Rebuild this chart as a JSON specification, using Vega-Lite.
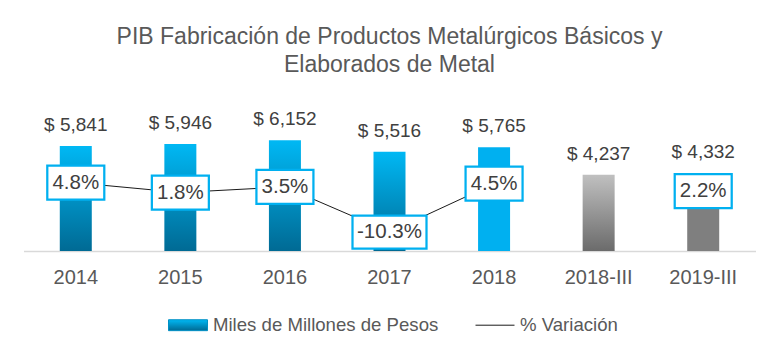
{
  "$schema": "https://vega.github.io/schema/vega-lite/v6.json",
  "width": 732,
  "height": 151,
  "autosize": {"type": "none"},
  "padding": {"left": 23.5, "top": 100, "right": 23.5, "bottom": 105},
  "background": "white",
  "title": {
    "text": ["PIB Fabricación de Productos Metalúrgicos Básicos y", "Elaborados de Metal"],
    "font": "Liberation Sans",
    "fontSize": 23,
    "fontWeight": "normal",
    "color": "#595959",
    "lineHeight": 28,
    "anchor": "middle",
    "frame": "group",
    "offset": 23
  },
  "data": {
    "values": [
      {"periodo": "2014", "valor": 5841, "pct": 4.8},
      {"periodo": "2015", "valor": 5946, "pct": 1.8},
      {"periodo": "2016", "valor": 6152, "pct": 3.5},
      {"periodo": "2017", "valor": 5516, "pct": -10.3},
      {"periodo": "2018", "valor": 5765, "pct": 4.5},
      {"periodo": "2018-III", "valor": 4237, "pct": null},
      {"periodo": "2019-III", "valor": 4332, "pct": 2.2}
    ]
  },
  "encoding": {
    "x": {
      "field": "periodo",
      "type": "nominal",
      "sort": null,
      "title": null,
      "scale": {"paddingInner": 0.694, "paddingOuter": 0.347},
      "axis": {
        "labelAngle": 0,
        "ticks": false,
        "labelPadding": 16,
        "labelFont": "Liberation Sans",
        "labelFontSize": 20,
        "labelColor": "#595959",
        "domainColor": "#D9D9D9",
        "domainWidth": 1.5,
        "grid": false
      }
    }
  },
  "layer": [
    {
      "mark": {"type": "bar"},
      "encoding": {
        "y": {"field": "valor", "type": "quantitative", "scale": {"domain": [0, 8390], "nice": false}, "axis": null},
        "color": {
          "condition": [
            {"test": "datum.periodo === '2018'", "value": "#00B0F0"},
            {"test": "datum.periodo === '2018-III'", "value": {"gradient": "linear", "x1": 0, "y1": 0, "x2": 0, "y2": 1, "stops": [{"offset": 0, "color": "#C0C0C0"}, {"offset": 1, "color": "#6B6B6B"}]}},
            {"test": "datum.periodo === '2019-III'", "value": "#7F7F7F"}
          ],
          "value": {"gradient": "linear", "x1": 0, "y1": 0, "x2": 0, "y2": 1, "stops": [{"offset": 0, "color": "#00B8F4"}, {"offset": 1, "color": "#006A94"}]}
        }
      }
    },
    {
      "mark": {
        "type": "text",
        "baseline": "alphabetic",
        "dy": -15,
        "font": "Liberation Sans",
        "fontSize": 19,
        "color": "#404040",
        "text": {"expr": "'$ ' + format(datum.valor, ',')"}
      },
      "encoding": {
        "y": {"field": "valor", "type": "quantitative", "scale": {"domain": [0, 8390], "nice": false}, "axis": null}
      }
    },
    {
      "mark": {"type": "line", "strokeWidth": 1},
      "encoding": {
        "y": {"field": "pct", "type": "quantitative", "scale": {"domain": [-16.09, 30.09], "nice": false, "zero": false}, "axis": null},
        "stroke": {
          "datum": "% Variación",
          "scale": {"domain": ["Miles de Millones de Pesos", "% Variación"], "range": ["#0090C5", "#1A1A1A"]},
          "legend": {
            "orient": "none",
            "legendX": 144.5,
            "legendY": 205,
            "direction": "horizontal",
            "title": null,
            "labelFont": "Liberation Sans",
            "labelFontSize": 18.6,
            "labelColor": "#595959",
            "labelLimit": 400,
            "labelOffset": 5,
            "columnPadding": 34,
            "padding": 0,
            "symbolSize": 1521,
            "symbolStrokeWidth": 1,
            "encode": {
              "symbols": {
                "update": {
                  "shape": [
                    {"test": "datum.value === 'Miles de Millones de Pesos'", "value": "M-1,-0.28L1,-0.28L1,0.28L-1,0.28Z"},
                    {"value": "stroke"}
                  ],
                  "fill": [
                    {"test": "datum.value === 'Miles de Millones de Pesos'", "value": {"gradient": "linear", "x1": 0, "y1": 0, "x2": 0, "y2": 1, "stops": [{"offset": 0, "color": "#00B8F4"}, {"offset": 1, "color": "#006A94"}]}},
                    {"value": "transparent"}
                  ],
                  "stroke": [
                    {"test": "datum.value === 'Miles de Millones de Pesos'", "value": "transparent"},
                    {"value": "#1A1A1A"}
                  ]
                }
              }
            }
          }
        }
      }
    },
    {
      "mark": {"type": "point", "fill": "white", "stroke": "#00B0F0", "strokeWidth": 2.25, "opacity": 1, "fillOpacity": 1, "size": 4},
      "encoding": {
        "y": {"field": "pct", "type": "quantitative", "scale": {"domain": [-16.09, 30.09], "nice": false, "zero": false}, "axis": null},
        "shape": {
          "condition": {"test": "datum.pct < 0", "value": "M-37,-16.5L37,-16.5L37,16.5L-37,16.5Z"},
          "value": "M-28.5,-17L28.5,-17L28.5,17L-28.5,17Z"
        }
      }
    },
    {
      "mark": {
        "type": "text",
        "baseline": "middle",
        "font": "Liberation Sans",
        "fontSize": 20.5,
        "color": "#404040",
        "text": {"expr": "datum.pct + '%'"}
      },
      "encoding": {
        "y": {"field": "pct", "type": "quantitative", "scale": {"domain": [-16.09, 30.09], "nice": false, "zero": false}, "axis": null}
      }
    }
  ],
  "resolve": {"scale": {"y": "independent"}},
  "config": {"view": {"stroke": null}}
}
